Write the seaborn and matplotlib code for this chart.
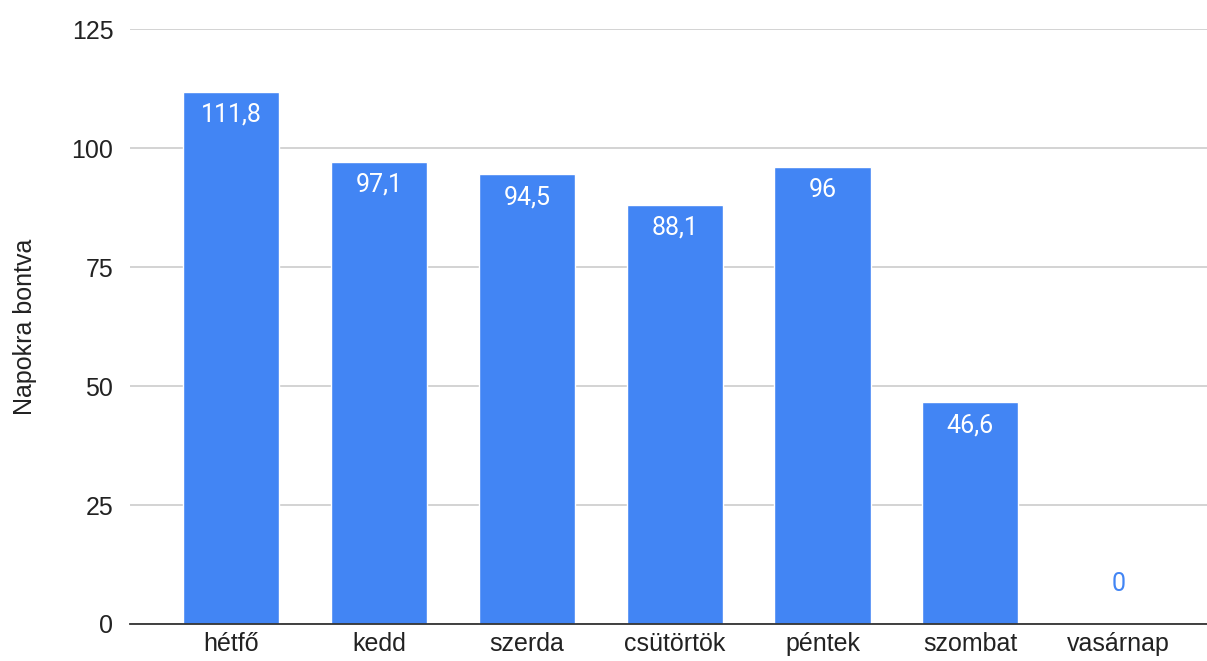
import matplotlib
matplotlib.use("Agg")
import matplotlib.pyplot as plt
import seaborn as sns
import pandas as pd

days = ["hétfő", "kedd", "szerda", "csütörtök", "péntek", "szombat", "vasárnap"]
values = [111.8, 97.1, 94.5, 88.1, 96, 46.6, 0]
labels = ["111,8", "97,1", "94,5", "88,1", "96", "46,6", "0"]

sns.set_theme(style="white")
plt.rcParams["font.family"] = ["Liberation Sans", "DejaVu Sans"]

BLUE = "#4285F4"

df = pd.DataFrame({"day": days, "value": values})

fig = plt.figure(figsize=(12.07, 6.61), dpi=100)
ax = fig.add_axes([0.1077, 0.056, 0.8923, 0.9])

sns.barplot(data=df, x="day", y="value", color=BLUE, saturation=1,
            width=0.65, ax=ax, zorder=3)

ax.set_ylim(0, 125)
ax.set_xlim(-0.683, 6.60)
ax.set_yticks([0, 25, 50, 75, 100, 125])
ax.yaxis.grid(True, color="#cccccc", linewidth=1.2, zorder=0)
ax.set_axisbelow(True)
for s in ["top", "right", "left"]:
    ax.spines[s].set_visible(False)
ax.spines["bottom"].set_color("#333333")
ax.spines["bottom"].set_linewidth(1.3)
ax.spines["bottom"].set_zorder(4)
ax.tick_params(axis="both", length=0, labelsize=18, colors="#222222")
ax.tick_params(axis="x", pad=6)
ax.tick_params(axis="y", pad=12)
ax.set_xlabel("")
ax.set_ylabel("Napokra bontva", fontsize=18, color="#222222", labelpad=25)

for i, (v, lab) in enumerate(zip(values, labels)):
    if v > 10:
        ax.annotate(lab, (i, v), xytext=(0, -16.5), textcoords="offset points",
                    ha="center", va="center", color="white", fontsize=18,
                    family=["Roboto", "DejaVu Sans"], zorder=5)
    else:
        ax.annotate(lab, (i, v), xytext=(0, 28.5), textcoords="offset points",
                    ha="center", va="center", color=BLUE, fontsize=18,
                    family=["Roboto", "DejaVu Sans"], zorder=5)

fig.savefig("out.png", dpi=100)
